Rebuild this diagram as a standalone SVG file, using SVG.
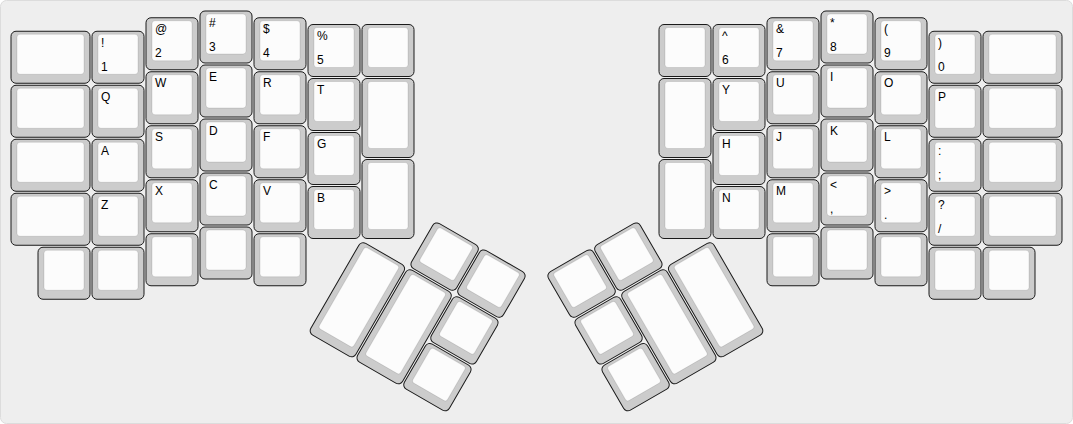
<svg xmlns="http://www.w3.org/2000/svg" width="1073" height="424" viewBox="0 0 1073 424">
<style>
.bg{fill:#eeeeee;stroke:#dcdcdc;stroke-width:1}
.o{fill:#cccccc;stroke:#1a1a1a;stroke-width:1}
.i{fill:#fcfcfc;stroke:#000;stroke-opacity:0.1;stroke-width:1}
.t{font-family:"Liberation Sans",Arial,sans-serif;font-size:12px;fill:#000}
</style>
<rect class="bg" x="0.5" y="0.5" width="1072" height="423" rx="6"/>
<g id="left">
<g id="k-l-esc" transform="translate(10,30.25)"><rect class="o" x="1" y="1" width="79" height="52" rx="5"/><rect class="i" x="7" y="4" width="67" height="40" rx="3"/></g>
<g id="k-1" transform="translate(91,30.25)"><rect class="o" x="1" y="1" width="52" height="52" rx="5"/><rect class="i" x="7" y="4" width="40" height="40" rx="3"/><text class="t" x="10" y="16.5">!</text><text class="t" x="10" y="40.5">1</text></g>
<g id="k-2" transform="translate(145,16.75)"><rect class="o" x="1" y="1" width="52" height="52" rx="5"/><rect class="i" x="7" y="4" width="40" height="40" rx="3"/><text class="t" x="10" y="16.5">@</text><text class="t" x="10" y="40.5">2</text></g>
<g id="k-3" transform="translate(199,10)"><rect class="o" x="1" y="1" width="52" height="52" rx="5"/><rect class="i" x="7" y="4" width="40" height="40" rx="3"/><text class="t" x="10" y="16.5">#</text><text class="t" x="10" y="40.5">3</text></g>
<g id="k-4" transform="translate(253,16.75)"><rect class="o" x="1" y="1" width="52" height="52" rx="5"/><rect class="i" x="7" y="4" width="40" height="40" rx="3"/><text class="t" x="10" y="16.5">$</text><text class="t" x="10" y="40.5">4</text></g>
<g id="k-5" transform="translate(307,23.5)"><rect class="o" x="1" y="1" width="52" height="52" rx="5"/><rect class="i" x="7" y="4" width="40" height="40" rx="3"/><text class="t" x="10" y="16.5">%</text><text class="t" x="10" y="40.5">5</text></g>
<g id="k-l-r0" transform="translate(361,23.5)"><rect class="o" x="1" y="1" width="52" height="52" rx="5"/><rect class="i" x="7" y="4" width="40" height="40" rx="3"/></g>

<g id="k-l-tab" transform="translate(10,84.25)"><rect class="o" x="1" y="1" width="79" height="52" rx="5"/><rect class="i" x="7" y="4" width="67" height="40" rx="3"/></g>
<g id="k-q" transform="translate(91,84.25)"><rect class="o" x="1" y="1" width="52" height="52" rx="5"/><rect class="i" x="7" y="4" width="40" height="40" rx="3"/><text class="t" x="10" y="16.5">Q</text></g>
<g id="k-w" transform="translate(145,70.75)"><rect class="o" x="1" y="1" width="52" height="52" rx="5"/><rect class="i" x="7" y="4" width="40" height="40" rx="3"/><text class="t" x="10" y="16.5">W</text></g>
<g id="k-e" transform="translate(199,64)"><rect class="o" x="1" y="1" width="52" height="52" rx="5"/><rect class="i" x="7" y="4" width="40" height="40" rx="3"/><text class="t" x="10" y="16.5">E</text></g>
<g id="k-r" transform="translate(253,70.75)"><rect class="o" x="1" y="1" width="52" height="52" rx="5"/><rect class="i" x="7" y="4" width="40" height="40" rx="3"/><text class="t" x="10" y="16.5">R</text></g>
<g id="k-t" transform="translate(307,77.5)"><rect class="o" x="1" y="1" width="52" height="52" rx="5"/><rect class="i" x="7" y="4" width="40" height="40" rx="3"/><text class="t" x="10" y="16.5">T</text></g>
<g id="k-l-tall1" transform="translate(361,77.5)"><rect class="o" x="1" y="1" width="52" height="79" rx="5"/><rect class="i" x="7" y="4" width="40" height="67" rx="3"/></g>

<g id="k-l-caps" transform="translate(10,138.25)"><rect class="o" x="1" y="1" width="79" height="52" rx="5"/><rect class="i" x="7" y="4" width="67" height="40" rx="3"/></g>
<g id="k-a" transform="translate(91,138.25)"><rect class="o" x="1" y="1" width="52" height="52" rx="5"/><rect class="i" x="7" y="4" width="40" height="40" rx="3"/><text class="t" x="10" y="16.5">A</text></g>
<g id="k-s" transform="translate(145,124.75)"><rect class="o" x="1" y="1" width="52" height="52" rx="5"/><rect class="i" x="7" y="4" width="40" height="40" rx="3"/><text class="t" x="10" y="16.5">S</text></g>
<g id="k-d" transform="translate(199,118)"><rect class="o" x="1" y="1" width="52" height="52" rx="5"/><rect class="i" x="7" y="4" width="40" height="40" rx="3"/><text class="t" x="10" y="16.5">D</text></g>
<g id="k-f" transform="translate(253,124.75)"><rect class="o" x="1" y="1" width="52" height="52" rx="5"/><rect class="i" x="7" y="4" width="40" height="40" rx="3"/><text class="t" x="10" y="16.5">F</text></g>
<g id="k-g" transform="translate(307,131.5)"><rect class="o" x="1" y="1" width="52" height="52" rx="5"/><rect class="i" x="7" y="4" width="40" height="40" rx="3"/><text class="t" x="10" y="16.5">G</text></g>
<g id="k-l-tall2" transform="translate(361,158.5)"><rect class="o" x="1" y="1" width="52" height="79" rx="5"/><rect class="i" x="7" y="4" width="40" height="67" rx="3"/></g>

<g id="k-l-shift" transform="translate(10,192.25)"><rect class="o" x="1" y="1" width="79" height="52" rx="5"/><rect class="i" x="7" y="4" width="67" height="40" rx="3"/></g>
<g id="k-z" transform="translate(91,192.25)"><rect class="o" x="1" y="1" width="52" height="52" rx="5"/><rect class="i" x="7" y="4" width="40" height="40" rx="3"/><text class="t" x="10" y="16.5">Z</text></g>
<g id="k-x" transform="translate(145,178.75)"><rect class="o" x="1" y="1" width="52" height="52" rx="5"/><rect class="i" x="7" y="4" width="40" height="40" rx="3"/><text class="t" x="10" y="16.5">X</text></g>
<g id="k-c" transform="translate(199,172)"><rect class="o" x="1" y="1" width="52" height="52" rx="5"/><rect class="i" x="7" y="4" width="40" height="40" rx="3"/><text class="t" x="10" y="16.5">C</text></g>
<g id="k-v" transform="translate(253,178.75)"><rect class="o" x="1" y="1" width="52" height="52" rx="5"/><rect class="i" x="7" y="4" width="40" height="40" rx="3"/><text class="t" x="10" y="16.5">V</text></g>
<g id="k-b" transform="translate(307,185.5)"><rect class="o" x="1" y="1" width="52" height="52" rx="5"/><rect class="i" x="7" y="4" width="40" height="40" rx="3"/><text class="t" x="10" y="16.5">B</text></g>

<g id="k-l-b1" transform="translate(37,246.25)"><rect class="o" x="1" y="1" width="52" height="52" rx="5"/><rect class="i" x="7" y="4" width="40" height="40" rx="3"/></g>
<g id="k-l-b2" transform="translate(91,246.25)"><rect class="o" x="1" y="1" width="52" height="52" rx="5"/><rect class="i" x="7" y="4" width="40" height="40" rx="3"/></g>
<g id="k-l-b3" transform="translate(145,232.75)"><rect class="o" x="1" y="1" width="52" height="52" rx="5"/><rect class="i" x="7" y="4" width="40" height="40" rx="3"/></g>
<g id="k-l-b4" transform="translate(199,226)"><rect class="o" x="1" y="1" width="52" height="52" rx="5"/><rect class="i" x="7" y="4" width="40" height="40" rx="3"/></g>
<g id="k-l-b5" transform="translate(253,232.75)"><rect class="o" x="1" y="1" width="52" height="52" rx="5"/><rect class="i" x="7" y="4" width="40" height="40" rx="3"/></g>

<g id="left-thumb" transform="rotate(30 361 239.5)">
<g id="k-lt1" transform="translate(415,185.5)"><rect class="o" x="1" y="1" width="52" height="52" rx="5"/><rect class="i" x="7" y="4" width="40" height="40" rx="3"/></g>
<g id="k-lt2" transform="translate(469,185.5)"><rect class="o" x="1" y="1" width="52" height="52" rx="5"/><rect class="i" x="7" y="4" width="40" height="40" rx="3"/></g>
<g id="k-lt3" transform="translate(361,239.5)"><rect class="o" x="1" y="1" width="52" height="106" rx="5"/><rect class="i" x="7" y="4" width="40" height="94" rx="3"/></g>
<g id="k-lt4" transform="translate(415,239.5)"><rect class="o" x="1" y="1" width="52" height="106" rx="5"/><rect class="i" x="7" y="4" width="40" height="94" rx="3"/></g>
<g id="k-lt5" transform="translate(469,239.5)"><rect class="o" x="1" y="1" width="52" height="52" rx="5"/><rect class="i" x="7" y="4" width="40" height="40" rx="3"/></g>
<g id="k-lt6" transform="translate(469,293.5)"><rect class="o" x="1" y="1" width="52" height="52" rx="5"/><rect class="i" x="7" y="4" width="40" height="40" rx="3"/></g>
</g>
</g>

<g id="right">
<g id="k-8" transform="translate(820,10)"><rect class="o" x="1" y="1" width="52" height="52" rx="5"/><rect class="i" x="7" y="4" width="40" height="40" rx="3"/><text class="t" x="10" y="16.5">*</text><text class="t" x="10" y="40.5">8</text></g>
<g id="k-7" transform="translate(766,16.75)"><rect class="o" x="1" y="1" width="52" height="52" rx="5"/><rect class="i" x="7" y="4" width="40" height="40" rx="3"/><text class="t" x="10" y="16.5">&amp;</text><text class="t" x="10" y="40.5">7</text></g>
<g id="k-9" transform="translate(874,16.75)"><rect class="o" x="1" y="1" width="52" height="52" rx="5"/><rect class="i" x="7" y="4" width="40" height="40" rx="3"/><text class="t" x="10" y="16.5">(</text><text class="t" x="10" y="40.5">9</text></g>
<g id="k-r-r0" transform="translate(658,23.5)"><rect class="o" x="1" y="1" width="52" height="52" rx="5"/><rect class="i" x="7" y="4" width="40" height="40" rx="3"/></g>
<g id="k-6" transform="translate(712,23.5)"><rect class="o" x="1" y="1" width="52" height="52" rx="5"/><rect class="i" x="7" y="4" width="40" height="40" rx="3"/><text class="t" x="10" y="16.5">^</text><text class="t" x="10" y="40.5">6</text></g>
<g id="k-0" transform="translate(928,30.25)"><rect class="o" x="1" y="1" width="52" height="52" rx="5"/><rect class="i" x="7" y="4" width="40" height="40" rx="3"/><text class="t" x="10" y="16.5">)</text><text class="t" x="10" y="40.5">0</text></g>
<g id="k-r-bksp" transform="translate(982,30.25)"><rect class="o" x="1" y="1" width="79" height="52" rx="5"/><rect class="i" x="7" y="4" width="67" height="40" rx="3"/></g>

<g id="k-i" transform="translate(820,64)"><rect class="o" x="1" y="1" width="52" height="52" rx="5"/><rect class="i" x="7" y="4" width="40" height="40" rx="3"/><text class="t" x="10" y="16.5">I</text></g>
<g id="k-u" transform="translate(766,70.75)"><rect class="o" x="1" y="1" width="52" height="52" rx="5"/><rect class="i" x="7" y="4" width="40" height="40" rx="3"/><text class="t" x="10" y="16.5">U</text></g>
<g id="k-o" transform="translate(874,70.75)"><rect class="o" x="1" y="1" width="52" height="52" rx="5"/><rect class="i" x="7" y="4" width="40" height="40" rx="3"/><text class="t" x="10" y="16.5">O</text></g>
<g id="k-r-tall1" transform="translate(658,77.5)"><rect class="o" x="1" y="1" width="52" height="79" rx="5"/><rect class="i" x="7" y="4" width="40" height="67" rx="3"/></g>
<g id="k-y" transform="translate(712,77.5)"><rect class="o" x="1" y="1" width="52" height="52" rx="5"/><rect class="i" x="7" y="4" width="40" height="40" rx="3"/><text class="t" x="10" y="16.5">Y</text></g>
<g id="k-p" transform="translate(928,84.25)"><rect class="o" x="1" y="1" width="52" height="52" rx="5"/><rect class="i" x="7" y="4" width="40" height="40" rx="3"/><text class="t" x="10" y="16.5">P</text></g>
<g id="k-r-bslash" transform="translate(982,84.25)"><rect class="o" x="1" y="1" width="79" height="52" rx="5"/><rect class="i" x="7" y="4" width="67" height="40" rx="3"/></g>

<g id="k-k" transform="translate(820,118)"><rect class="o" x="1" y="1" width="52" height="52" rx="5"/><rect class="i" x="7" y="4" width="40" height="40" rx="3"/><text class="t" x="10" y="16.5">K</text></g>
<g id="k-j" transform="translate(766,124.75)"><rect class="o" x="1" y="1" width="52" height="52" rx="5"/><rect class="i" x="7" y="4" width="40" height="40" rx="3"/><text class="t" x="10" y="16.5">J</text></g>
<g id="k-l" transform="translate(874,124.75)"><rect class="o" x="1" y="1" width="52" height="52" rx="5"/><rect class="i" x="7" y="4" width="40" height="40" rx="3"/><text class="t" x="10" y="16.5">L</text></g>
<g id="k-h" transform="translate(712,131.5)"><rect class="o" x="1" y="1" width="52" height="52" rx="5"/><rect class="i" x="7" y="4" width="40" height="40" rx="3"/><text class="t" x="10" y="16.5">H</text></g>
<g id="k-semi" transform="translate(928,138.25)"><rect class="o" x="1" y="1" width="52" height="52" rx="5"/><rect class="i" x="7" y="4" width="40" height="40" rx="3"/><text class="t" x="10" y="16.5">:</text><text class="t" x="10" y="40.5">;</text></g>
<g id="k-r-quote" transform="translate(982,138.25)"><rect class="o" x="1" y="1" width="79" height="52" rx="5"/><rect class="i" x="7" y="4" width="67" height="40" rx="3"/></g>
<g id="k-r-tall2" transform="translate(658,158.5)"><rect class="o" x="1" y="1" width="52" height="79" rx="5"/><rect class="i" x="7" y="4" width="40" height="67" rx="3"/></g>

<g id="k-comma" transform="translate(820,172)"><rect class="o" x="1" y="1" width="52" height="52" rx="5"/><rect class="i" x="7" y="4" width="40" height="40" rx="3"/><text class="t" x="10" y="16.5">&lt;</text><text class="t" x="10" y="40.5">,</text></g>
<g id="k-m" transform="translate(766,178.75)"><rect class="o" x="1" y="1" width="52" height="52" rx="5"/><rect class="i" x="7" y="4" width="40" height="40" rx="3"/><text class="t" x="10" y="16.5">M</text></g>
<g id="k-period" transform="translate(874,178.75)"><rect class="o" x="1" y="1" width="52" height="52" rx="5"/><rect class="i" x="7" y="4" width="40" height="40" rx="3"/><text class="t" x="10" y="16.5">&gt;</text><text class="t" x="10" y="40.5">.</text></g>
<g id="k-n" transform="translate(712,185.5)"><rect class="o" x="1" y="1" width="52" height="52" rx="5"/><rect class="i" x="7" y="4" width="40" height="40" rx="3"/><text class="t" x="10" y="16.5">N</text></g>
<g id="k-slash" transform="translate(928,192.25)"><rect class="o" x="1" y="1" width="52" height="52" rx="5"/><rect class="i" x="7" y="4" width="40" height="40" rx="3"/><text class="t" x="10" y="16.5">?</text><text class="t" x="10" y="40.5">/</text></g>
<g id="k-r-shift" transform="translate(982,192.25)"><rect class="o" x="1" y="1" width="79" height="52" rx="5"/><rect class="i" x="7" y="4" width="67" height="40" rx="3"/></g>

<g id="k-r-b1" transform="translate(820,226)"><rect class="o" x="1" y="1" width="52" height="52" rx="5"/><rect class="i" x="7" y="4" width="40" height="40" rx="3"/></g>
<g id="k-r-b2" transform="translate(766,232.75)"><rect class="o" x="1" y="1" width="52" height="52" rx="5"/><rect class="i" x="7" y="4" width="40" height="40" rx="3"/></g>
<g id="k-r-b3" transform="translate(874,232.75)"><rect class="o" x="1" y="1" width="52" height="52" rx="5"/><rect class="i" x="7" y="4" width="40" height="40" rx="3"/></g>
<g id="k-r-b4" transform="translate(928,246.25)"><rect class="o" x="1" y="1" width="52" height="52" rx="5"/><rect class="i" x="7" y="4" width="40" height="40" rx="3"/></g>
<g id="k-r-b5" transform="translate(982,246.25)"><rect class="o" x="1" y="1" width="52" height="52" rx="5"/><rect class="i" x="7" y="4" width="40" height="40" rx="3"/></g>

<g id="right-thumb" transform="rotate(-30 712 239.5)">
<g id="k-rt1" transform="translate(550,185.5)"><rect class="o" x="1" y="1" width="52" height="52" rx="5"/><rect class="i" x="7" y="4" width="40" height="40" rx="3"/></g>
<g id="k-rt2" transform="translate(604,185.5)"><rect class="o" x="1" y="1" width="52" height="52" rx="5"/><rect class="i" x="7" y="4" width="40" height="40" rx="3"/></g>
<g id="k-rt3" transform="translate(550,239.5)"><rect class="o" x="1" y="1" width="52" height="52" rx="5"/><rect class="i" x="7" y="4" width="40" height="40" rx="3"/></g>
<g id="k-rt4" transform="translate(604,239.5)"><rect class="o" x="1" y="1" width="52" height="106" rx="5"/><rect class="i" x="7" y="4" width="40" height="94" rx="3"/></g>
<g id="k-rt5" transform="translate(658,239.5)"><rect class="o" x="1" y="1" width="52" height="106" rx="5"/><rect class="i" x="7" y="4" width="40" height="94" rx="3"/></g>
<g id="k-rt6" transform="translate(550,293.5)"><rect class="o" x="1" y="1" width="52" height="52" rx="5"/><rect class="i" x="7" y="4" width="40" height="40" rx="3"/></g>
</g>
</g>
<g id="connectors"/>
</svg>
